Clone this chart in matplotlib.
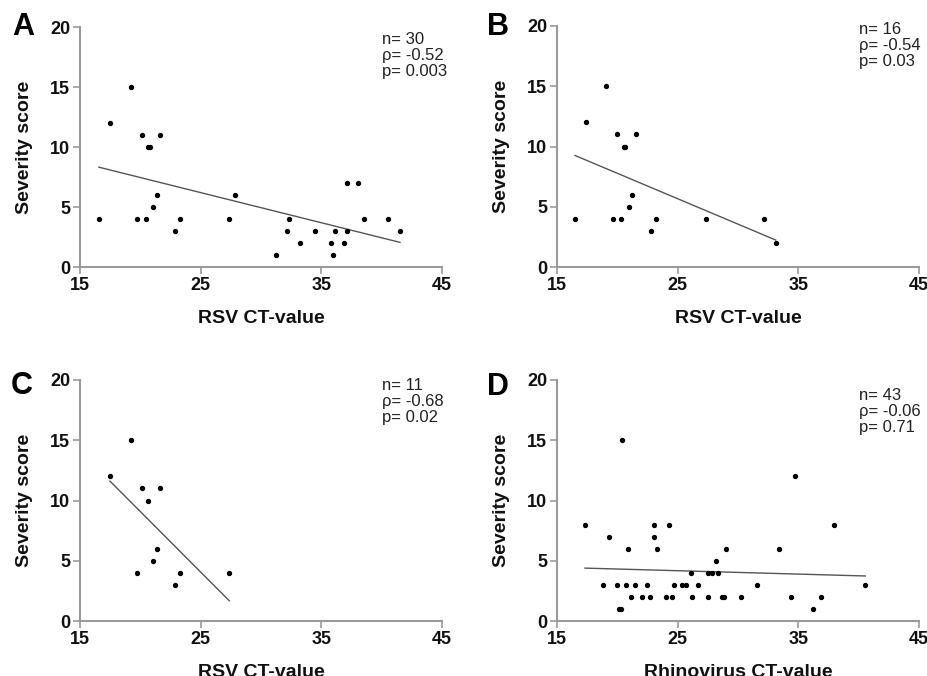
import numpy as np
import matplotlib
matplotlib.use("Agg")
import matplotlib.pyplot as plt

plt.rcParams['font.family'] = ['Liberation Sans', 'DejaVu Sans']

# panel A: all RSV
a_ct = [16.57, 17.51, 19.23, 19.75, 20.11, 20.44, 20.66, 20.8, 21.08, 21.38,
        21.66, 22.9, 23.29, 27.38, 27.87, 31.22, 32.18, 32.29, 33.23, 34.5,
        35.77, 35.94, 36.16, 36.85, 37.1, 37.1, 38.0, 38.56, 40.52, 41.52]
a_score = [4, 12, 15, 4, 11, 4, 10, 10, 5, 6,
           11, 3, 4, 4, 6, 1, 3, 4, 2, 3,
           2, 1, 3, 2, 7, 3, 7, 4, 4, 3]

# panel B
b_ct = [16.49, 17.4, 19.09, 19.67, 20.0, 20.33, 20.55, 20.66, 20.97, 21.24,
        21.55, 22.79, 23.18, 27.32, 32.18, 33.12]
b_score = [4, 12, 15, 4, 11, 4, 10, 10, 5, 6, 11, 3, 4, 4, 4, 2]

# panel C
c_ct = [17.48, 19.22, 19.75, 20.11, 20.66, 21.07, 21.35, 21.65, 22.89, 23.28, 27.37]
c_score = [12, 15, 4, 11, 10, 5, 6, 11, 3, 4, 4]

# panel D: rhinovirus
d_ct = [17.32, 18.81, 19.34, 20.0, 20.17, 20.33, 20.41, 20.75, 20.88, 21.13,
        21.46, 22.02, 22.49, 22.73, 23.07, 23.07, 23.26, 24.01, 24.31, 24.5,
        24.67, 25.39, 25.72, 26.1, 26.19, 26.66, 27.49, 27.51, 27.82, 28.18,
        28.37, 28.65, 28.87, 29.03, 30.25, 31.6, 33.4, 34.36, 34.75, 36.19,
        36.85, 37.96, 40.55]
d_score = [8, 3, 7, 3, 1, 1, 15, 3, 6, 2,
           3, 2, 3, 2, 8, 7, 6, 2, 8, 2,
           3, 3, 3, 4, 2, 3, 4, 2, 4, 5,
           4, 2, 2, 6, 2, 3, 6, 2, 12, 1,
           2, 8, 3]

letters = ['A', 'B', 'C', 'D']
xlabels = ['RSV CT-value', 'RSV CT-value', 'RSV CT-value', 'Rhinovirus CT-value']
stats = [('30', '-0.52', '0.003'), ('16', '-0.54', '0.03'),
         ('11', '-0.68', '0.02'), ('43', '-0.06', '0.71')]
panels = [(a_ct, a_score), (b_ct, b_score), (c_ct, c_score), (d_ct, d_score)]

fig = plt.figure(figsize=(9.28, 6.76), dpi=100)
W, H = 928, 676
# axes boxes in pixels: left, top, right, bottom
boxes = [(80, 27, 442, 267), (557, 26, 919, 267),
         (80, 380, 442, 621), (557, 380, 919, 621)]
letter_pos = [(12, 12), (487, 12), (11, 371), (487, 372)]
stat_top = [32, 22, 378, 388]

spine_col = '#9a9a9a'
for i, (x, y) in enumerate(panels):
    l, t, r, b = boxes[i]
    ax = fig.add_axes([l / W, 1 - b / H, (r - l) / W, (b - t) / H])
    ax.set_xlim(15, 45)
    ax.set_ylim(0, 20)
    ax.set_xticks([15, 25, 35, 45])
    ax.set_yticks([0, 5, 10, 15, 20])
    for s in ['top', 'right']:
        ax.spines[s].set_visible(False)
    for s in ['left', 'bottom']:
        ax.spines[s].set_color(spine_col)
        ax.spines[s].set_linewidth(1.5)
    ax.tick_params(colors=spine_col, width=1.2, length=5, labelcolor='#111111',
                   labelsize=13, pad=2)
    for lab in ax.get_xticklabels() + ax.get_yticklabels():
        lab.set_fontweight('bold')

    ax.scatter(x, y, s=8, color='black', zorder=3, clip_on=False)
    k, c0 = np.polyfit(x, y, 1)
    xx = np.array([min(x), max(x)])
    ax.plot(xx, k * xx + c0, color='#555555', lw=1.0)

    ax.set_xlabel(xlabels[i], fontsize=14, fontweight='bold', labelpad=12,
                  color='#111111')
    ax.set_ylabel('Severity score', fontsize=14, fontweight='bold', labelpad=12,
                  color='#111111')
    n, rho, p = stats[i]
    fig.text((l + 302) / W, 1 - stat_top[i] / H, f'n= {n}\nρ= {rho}\np= {p}',
             fontsize=12, va='top', ha='left', color='#222222', linespacing=1.1)
    lx, ly = letter_pos[i]
    fig.text(lx / W, 1 - ly / H, letters[i], fontsize=22,
             fontweight='bold', va='top', ha='left')

fig.savefig('out.png', dpi=100)
